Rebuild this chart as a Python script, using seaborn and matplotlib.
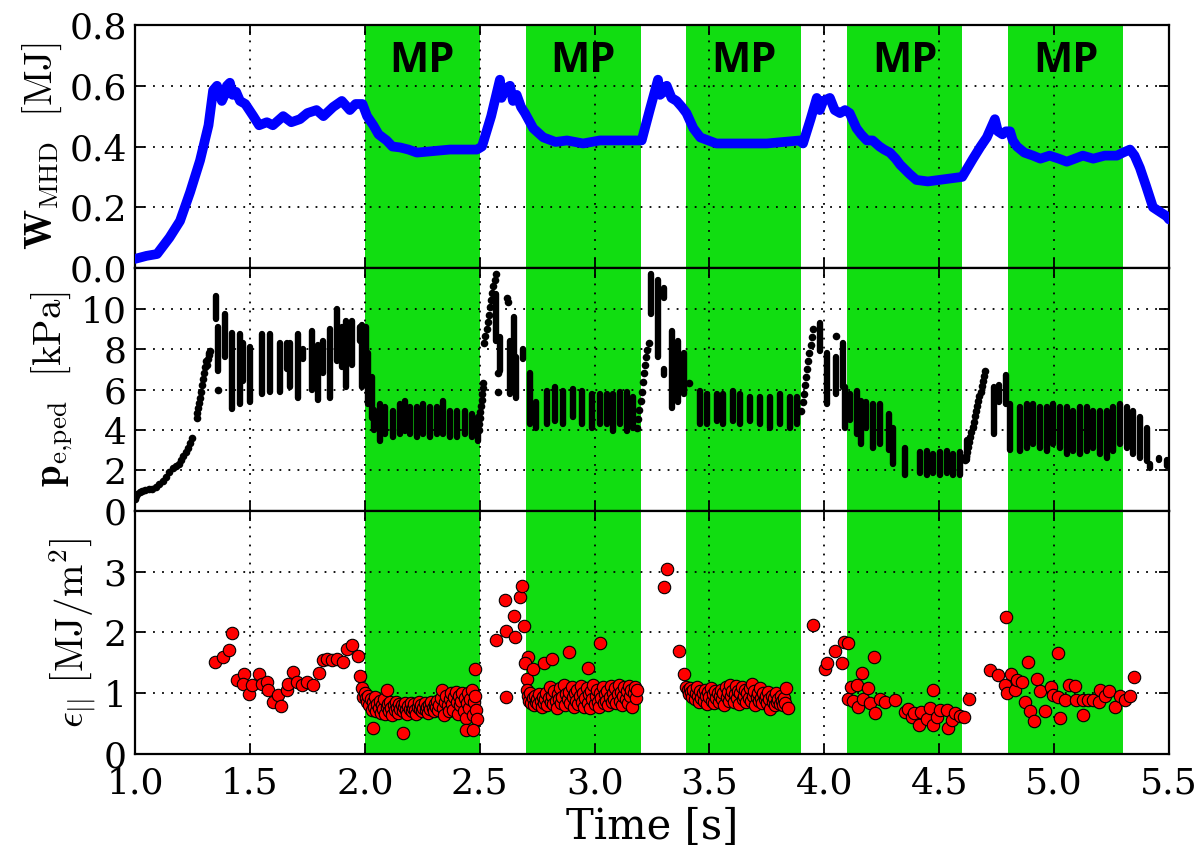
"""Stored energy, pedestal pressure and ELM energy density vs time, MP phases shaded."""
import matplotlib
matplotlib.use("Agg")
import matplotlib.pyplot as plt
import pandas as pd
import seaborn as sns

# ---------------------------------------------------------------------------
# data
# ---------------------------------------------------------------------------
MP_START = [2.0, 2.7, 3.4, 4.1, 4.8]
MP_END = [2.5, 3.2, 3.9, 4.6, 5.3]
MP_LABEL = "MP"

# W_MHD [MJ]
w_t = [1.00, 1.05, 1.096, 1.15, 1.196, 1.24, 1.283, 1.32, 1.34, 1.357, 1.378, 1.39,
       1.40, 1.413, 1.425, 1.44, 1.457, 1.48, 1.515, 1.54, 1.574, 1.60, 1.645, 1.68,
       1.718, 1.75, 1.79, 1.82, 1.862, 1.90, 1.935, 1.96, 1.99, 2.01, 2.037, 2.06,
       2.095, 2.12, 2.153, 2.19, 2.227, 2.30, 2.37, 2.43, 2.488, 2.51, 2.55, 2.588,
       2.595, 2.61, 2.632, 2.645, 2.661, 2.68, 2.697, 2.733, 2.777, 2.83, 2.88, 2.95,
       3.023, 3.09, 3.167, 3.205, 3.24, 3.276, 3.285, 3.30, 3.314, 3.335, 3.357, 3.38,
       3.40, 3.43, 3.46, 3.53, 3.60, 3.68, 3.75, 3.82, 3.894, 3.907, 3.94, 3.967,
       3.98, 3.995, 4.024, 4.045, 4.068, 4.09, 4.11, 4.14, 4.16, 4.185, 4.21, 4.24,
       4.26, 4.285, 4.31, 4.33, 4.37, 4.40, 4.45, 4.50, 4.55, 4.60, 4.647, 4.68,
       4.707, 4.742, 4.755, 4.775, 4.79, 4.808, 4.82, 4.838, 4.87, 4.908, 4.94, 4.98,
       5.02, 5.055, 5.09, 5.125, 5.17, 5.22, 5.273, 5.30, 5.33, 5.35, 5.373, 5.40,
       5.43, 5.49, 5.50]
w_val = [0.03, 0.04, 0.046, 0.10, 0.155, 0.25, 0.354, 0.47, 0.585, 0.60, 0.55, 0.57,
         0.60, 0.61, 0.57, 0.58, 0.55, 0.54, 0.50, 0.47, 0.48, 0.47, 0.50, 0.48,
         0.49, 0.51, 0.52, 0.50, 0.53, 0.55, 0.52, 0.54, 0.54, 0.50, 0.47, 0.44,
         0.42, 0.40, 0.397, 0.39, 0.38, 0.385, 0.39, 0.39, 0.39, 0.40, 0.50, 0.62,
         0.56, 0.59, 0.60, 0.55, 0.57, 0.53, 0.51, 0.46, 0.43, 0.415, 0.42, 0.41,
         0.42, 0.42, 0.42, 0.42, 0.52, 0.62, 0.57, 0.58, 0.60, 0.56, 0.55, 0.53,
         0.51, 0.46, 0.43, 0.41, 0.41, 0.41, 0.41, 0.415, 0.42, 0.41, 0.49, 0.56,
         0.52, 0.55, 0.56, 0.52, 0.51, 0.52, 0.51, 0.46, 0.44, 0.42, 0.42, 0.40,
         0.39, 0.38, 0.36, 0.34, 0.31, 0.29, 0.285, 0.29, 0.295, 0.30, 0.36, 0.40,
         0.43, 0.49, 0.45, 0.44, 0.45, 0.45, 0.42, 0.40, 0.38, 0.37, 0.36, 0.37,
         0.36, 0.35, 0.36, 0.37, 0.36, 0.37, 0.37, 0.38, 0.39, 0.37, 0.33, 0.27,
         0.20, 0.17, 0.16]

# p_e,ped [kPa] — single dots
dot_t = [1.00, 1.005, 1.01, 1.02, 1.03, 1.045, 1.06, 1.075, 1.09, 1.105, 1.12, 1.135,
         1.15, 1.165, 1.18, 1.19, 1.20, 1.21, 1.22, 1.23, 1.24, 1.25,
         1.268, 1.272, 1.276, 1.28, 1.284, 1.288, 1.292, 1.296, 1.30, 1.304, 1.308,
         1.312, 1.316, 1.32, 1.324, 1.327, 1.36,
         2.495, 2.498, 2.50, 2.503, 2.505, 2.508, 2.51, 2.513, 2.515,
         2.52, 2.525, 2.53, 2.535, 2.54, 2.545, 2.55, 2.555, 2.56, 2.565, 2.57,
         2.58, 2.58, 2.62, 2.625,
         3.185, 3.19, 3.195, 3.20, 3.205, 3.21, 3.215, 3.22, 3.225, 3.23, 3.235, 3.41,
         3.90, 3.905, 3.91, 3.915, 3.92, 3.925, 3.93, 3.935, 3.94, 3.945, 3.95, 4.05,
         4.61, 4.615, 4.62, 4.625, 4.63, 4.635, 4.64, 4.645, 4.65, 4.655, 4.66,
         4.665, 4.67, 4.675, 4.68, 4.685, 4.69, 4.695, 4.70]
dot_p = [0.6, 0.75, 0.85, 0.95, 1.0, 1.05, 1.1, 1.1, 1.2, 1.35, 1.5, 1.7,
         1.95, 2.1, 2.2, 2.3, 2.5, 2.7, 2.9, 3.1, 3.35, 3.6,
         4.6, 4.85, 5.1, 5.35, 5.6, 5.9, 6.2, 6.5, 6.8, 7.1, 7.4,
         7.2, 7.5, 7.7, 7.8, 7.9, 6.0,
         4.0, 4.3, 4.6, 4.9, 5.2, 5.5, 5.8, 6.05, 6.3,
         8.3, 8.65, 9.0, 9.35, 9.7, 10.05, 10.4, 10.75, 11.1, 11.4, 11.7,
         6.8, 5.9, 10.5, 10.3,
         4.1, 4.55, 5.0, 5.45, 5.9, 6.35, 6.8, 7.2, 7.6, 7.95, 8.3, 6.3,
         4.95, 5.4, 5.8, 6.2, 6.6, 7.0, 7.4, 7.8, 8.2, 8.6, 9.0, 8.66,
         2.5, 2.7, 2.9, 3.15, 3.4, 3.65, 3.9, 4.15, 4.4, 4.7, 4.95,
         5.2, 5.45, 5.7, 5.9, 6.15, 6.4, 6.65, 6.9]

# p_e,ped [kPa] — dense vertical bands of dots (time, low, high)
band_t = [1.352, 1.36, 1.39, 1.42, 1.455, 1.47, 1.50, 1.553, 1.588, 1.63, 1.66, 1.675,
          1.71, 1.73, 1.77, 1.797, 1.82, 1.85, 1.88, 1.90, 1.92, 1.945, 1.98, 1.99,
          2.005, 2.015, 2.03, 2.04,
          2.066, 2.088, 2.123, 2.153, 2.175, 2.197, 2.227, 2.253, 2.284, 2.314, 2.34,
          2.371, 2.40, 2.436, 2.466, 2.493,
          2.57, 2.59, 2.63, 2.65, 2.66, 2.69, 2.72, 2.745,
          2.793, 2.828, 2.862, 2.906, 2.945, 2.989, 3.023, 3.054, 3.08, 3.11, 3.141, 3.167,
          3.245, 3.275, 3.30, 3.30, 3.335, 3.365, 3.39,
          3.459, 3.489, 3.533, 3.559, 3.602, 3.633, 3.676, 3.72, 3.763, 3.807, 3.85, 3.881,
          3.98, 4.01, 4.05, 4.08, 4.09, 4.11, 4.14, 4.16, 4.18, 4.21, 4.24, 4.28, 4.30,
          4.35, 4.416, 4.446, 4.473, 4.503, 4.533, 4.56, 4.59,
          4.62, 4.74, 4.76, 4.79, 4.81,
          4.851, 4.881, 4.908, 4.938, 4.969, 4.995, 5.025, 5.056, 5.082, 5.112, 5.143,
          5.169, 5.199, 5.23, 5.256, 5.286, 5.317, 5.343, 5.373, 5.404,
          5.415, 5.455, 5.49]
band_lo = [9.5, 6.9, 7.6, 5.05, 5.3, 6.4, 5.4, 5.8, 5.9, 5.9, 7.0, 6.1,
           5.6, 7.5, 6.0, 5.5, 6.8, 5.6, 7.4, 7.1, 6.1, 7.2, 8.4, 6.1,
           7.4, 5.3, 4.6, 4.0,
           3.47, 3.80, 3.63, 3.80, 3.96, 3.80, 3.63, 3.80, 3.63, 3.80, 3.80,
           3.63, 3.63, 3.80, 3.63, 3.47,
           8.4, 6.9, 5.8, 7.4, 5.6, 7.5, 4.3, 4.1,
           4.29, 4.46, 4.29, 4.62, 4.29, 4.12, 4.29, 4.29, 3.96, 4.29, 3.96, 4.12,
           9.75, 7.6, 10.5, 6.7, 5.1, 5.4, 5.8,
           4.29, 4.29, 4.46, 4.29, 4.46, 4.29, 4.46, 4.29, 4.12, 4.29, 4.12, 4.29,
           7.9, 5.3, 5.8, 6.1, 4.1, 4.5, 3.8, 3.3, 4.1, 3.1, 3.3, 3.0, 2.3,
           1.8, 1.9, 1.8, 1.9, 1.8, 1.9, 1.8, 1.8,
           2.5, 3.8, 5.4, 5.3, 3.0,
           2.97, 3.13, 3.30, 3.13, 2.97, 3.30, 3.13, 2.81, 2.97, 2.81, 2.97,
           3.13, 2.81, 2.64, 2.97, 3.30, 3.13, 2.81, 2.64, 2.48,
           2.1, 2.5, 2.2]
band_hi = [10.6, 9.1, 9.75, 8.8, 8.75, 8.3, 8.1, 8.75, 8.75, 8.3, 8.3, 8.3,
           8.75, 8.0, 8.9, 8.2, 8.4, 9.0, 10.0, 9.1, 9.4, 9.4, 9.1, 9.2,
           9.1, 7.8, 6.6, 5.0,
           5.28, 5.12, 4.95, 5.28, 5.45, 5.12, 5.12, 5.28, 5.12, 5.12, 5.45,
           4.95, 4.95, 4.95, 4.79, 4.62,
           10.7, 8.6, 8.4, 9.6, 7.6, 8.0, 6.8, 5.4,
           5.94, 6.10, 5.94, 6.02, 5.94, 5.78, 5.78, 5.78, 5.78, 5.86, 5.86, 5.61,
           11.7, 11.4, 11.0, 7.0, 8.9, 8.4, 7.8,
           5.94, 5.78, 5.78, 5.78, 5.94, 5.78, 5.61, 5.61, 5.61, 5.78, 5.61, 5.61,
           9.3, 7.8, 7.6, 8.3, 6.1, 5.8, 5.94, 5.45, 5.4, 5.3, 5.3, 4.8, 4.1,
           3.1, 2.9, 2.95, 2.8, 2.9, 2.95, 2.8, 2.9,
           3.5, 6.1, 6.2, 6.7, 5.3,
           5.12, 5.28, 5.28, 5.12, 5.12, 5.28, 5.12, 5.12, 4.95, 5.12, 5.12,
           4.95, 4.95, 4.95, 5.12, 5.28, 5.12, 4.95, 4.62, 4.12,
           2.3, 2.6, 2.5]

# epsilon_|| [MJ/m^2]
eps_t = [1.348, 1.384, 1.41, 1.42, 1.442, 1.476, 1.471, 1.497, 1.508, 1.541, 1.551, 1.573,
         1.58, 1.602, 1.624, 1.635, 1.66, 1.667, 1.689, 1.704, 1.725, 1.747, 1.773, 1.802,
         1.817, 1.837, 1.856, 1.88, 1.904, 1.924, 1.943, 1.972, 1.979, 1.986, 1.994,
         2.00, 2.005, 2.01, 2.015, 2.02, 2.025, 2.03, 2.035, 2.04, 2.045, 2.05, 2.055,
         2.06, 2.065, 2.07, 2.075, 2.08, 2.085, 2.09, 2.095, 2.10, 2.105, 2.11, 2.115,
         2.12, 2.125, 2.13, 2.135, 2.14, 2.145, 2.15, 2.155, 2.16, 2.165, 2.17, 2.175,
         2.18, 2.185, 2.19, 2.195, 2.20, 2.205, 2.21, 2.215, 2.22, 2.225, 2.23, 2.235,
         2.24, 2.245, 2.25, 2.255, 2.26, 2.265, 2.27, 2.275, 2.28, 2.285, 2.29, 2.295,
         2.30, 2.305, 2.31, 2.315, 2.32, 2.325, 2.33, 2.335, 2.34, 2.345, 2.35, 2.355,
         2.36, 2.365, 2.37, 2.375, 2.38, 2.385, 2.39, 2.395, 2.40, 2.405, 2.41, 2.415,
         2.42, 2.425, 2.43, 2.435, 2.44, 2.445, 2.45, 2.455, 2.46, 2.465, 2.47, 2.475,
         2.48, 2.485, 2.49, 2.037, 2.165, 2.098, 2.44, 2.47, 2.48,
         2.57, 2.61, 2.614, 2.651, 2.655, 2.675, 2.684, 2.691, 2.614, 2.712, 2.697, 2.704,
         2.733, 2.78, 2.815, 2.888, 3.023, 2.973,
         2.705, 2.71, 2.715, 2.72, 2.725, 2.73, 2.735, 2.74, 2.745, 2.75, 2.755, 2.76,
         2.765, 2.77, 2.775, 2.78, 2.785, 2.79, 2.795, 2.80, 2.805, 2.81, 2.815, 2.82,
         2.825, 2.83, 2.835, 2.84, 2.845, 2.85, 2.855, 2.86, 2.865, 2.87, 2.875, 2.885,
         2.89, 2.895, 2.90, 2.905, 2.91, 2.915, 2.92, 2.925, 2.93, 2.935, 2.94, 2.945,
         2.95, 2.955, 2.96, 2.965, 2.97, 2.975, 2.98, 2.985, 2.99, 2.995, 3.00, 3.005,
         3.01, 3.015, 3.02, 3.025, 3.03, 3.035, 3.04, 3.045, 3.05, 3.055, 3.06, 3.065,
         3.07, 3.075, 3.08, 3.085, 3.09, 3.095, 3.10, 3.105, 3.11, 3.115, 3.12, 3.125,
         3.13, 3.135, 3.14, 3.145, 3.15, 3.155, 3.16, 3.165, 3.17, 3.175, 3.18, 3.185,
         3.314, 3.30, 3.369, 3.389,
         3.40, 3.405, 3.41, 3.415, 3.42, 3.425, 3.43, 3.435, 3.44, 3.445, 3.45, 3.455,
         3.46, 3.465, 3.47, 3.475, 3.48, 3.485, 3.49, 3.495, 3.50, 3.505, 3.51, 3.515,
         3.52, 3.525, 3.53, 3.535, 3.54, 3.545, 3.55, 3.555, 3.56, 3.565, 3.57, 3.575,
         3.58, 3.585, 3.59, 3.595, 3.60, 3.605, 3.61, 3.615, 3.62, 3.625, 3.63, 3.635,
         3.64, 3.645, 3.65, 3.655, 3.66, 3.665, 3.67, 3.675, 3.68, 3.685, 3.69, 3.695,
         3.70, 3.705, 3.71, 3.715, 3.72, 3.725, 3.73, 3.735, 3.74, 3.745, 3.75, 3.755,
         3.76, 3.765, 3.77, 3.775, 3.78, 3.785, 3.79, 3.795, 3.80, 3.805, 3.81, 3.815,
         3.82, 3.825, 3.83, 3.835, 3.84,
         3.949, 4.003, 4.01, 4.046, 4.075, 4.087, 4.104, 4.104, 4.118, 4.125, 4.14, 4.148,
         4.162, 4.168, 4.19, 4.198, 4.216, 4.22, 4.242, 4.264, 4.307, 4.351, 4.365, 4.38,
         4.39, 4.41, 4.42, 4.445, 4.459, 4.471, 4.473, 4.488, 4.503, 4.532, 4.54, 4.555,
         4.57, 4.592, 4.607, 4.629,
         4.72, 4.757, 4.79, 4.786, 4.793, 4.812, 4.829, 4.84, 4.858, 4.873, 4.885, 4.895,
         4.913, 4.924, 4.94, 4.962, 4.986, 4.996, 5.015, 5.018, 5.025, 5.047, 5.066, 5.09,
         5.097, 5.127, 5.127, 5.148, 5.17, 5.195, 5.199, 5.22, 5.24, 5.265, 5.286, 5.31,
         5.33, 5.348]
eps_val = [1.51, 1.60, 1.72, 1.99, 1.22, 1.32, 1.16, 0.99, 1.13, 1.32, 1.15, 1.19,
           1.05, 0.86, 0.97, 0.79, 1.05, 1.16, 1.35, 1.19, 1.13, 1.19, 1.13, 1.33,
           1.55, 1.56, 1.54, 1.56, 1.51, 1.73, 1.80, 1.62, 1.28, 1.08, 0.94,
           1.00, 0.92, 0.85, 0.95, 0.80, 0.90, 0.72, 0.85, 0.78, 0.93, 0.70, 0.82,
           0.75, 0.88, 0.68, 0.80, 0.74, 0.90, 0.66, 0.78, 0.82, 0.70, 0.85, 0.75,
           0.64, 0.80, 0.72, 0.86, 0.76, 0.68, 0.82, 0.74, 0.80, 0.70, 0.78, 0.84,
           0.72, 0.66, 0.79, 0.74, 0.84, 0.70, 0.76, 0.82, 0.72, 0.66, 0.78, 0.86,
           0.74, 0.80, 0.70, 0.76, 0.84, 0.72, 0.78, 0.68, 0.80, 0.74, 0.86, 0.76,
           0.70, 0.82, 0.77, 0.88, 0.72, 0.80, 0.92, 1.05, 0.76, 0.64, 0.86, 0.96,
           0.80, 0.70, 0.90, 1.00, 0.82, 0.72, 0.94, 1.02, 0.86, 0.66, 0.96, 0.80,
           0.88, 1.00, 0.70, 0.92, 0.60, 0.84, 1.00, 0.76, 0.90, 1.05, 0.64, 0.86,
           0.96, 0.72, 0.58, 0.43, 0.34, 1.05, 0.39, 0.39, 1.40,
           1.87, 2.54, 2.03, 2.27, 1.92, 2.58, 2.76, 2.11, 0.93, 1.60, 1.49, 1.24,
           1.40, 1.49, 1.57, 1.68, 1.83, 1.41,
           1.05, 0.95, 0.88, 1.00, 0.84, 0.92, 0.80, 0.96, 0.86, 0.90, 0.82, 0.98,
           0.88, 0.78, 0.94, 0.84, 0.90, 1.00, 0.80, 0.92, 1.10, 0.86, 0.96, 0.82,
           1.04, 0.88, 0.76, 0.98, 0.90, 1.08, 0.84, 0.94, 1.14, 0.80, 0.98, 0.90,
           1.02, 0.84, 1.10, 0.94, 0.78, 1.00, 0.88, 1.06, 0.82, 0.96, 1.12, 0.86,
           1.00, 0.78, 0.92, 1.08, 0.84, 0.98, 0.76, 1.04, 0.90, 1.14, 0.82, 0.96,
           1.06, 0.86, 0.78, 1.00, 0.92, 1.10, 0.84, 0.98, 0.88, 1.04, 0.80, 0.94,
           1.12, 0.86, 1.00, 0.90, 1.08, 0.84, 0.98, 1.14, 0.88, 1.02, 0.80, 0.96,
           1.10, 0.90, 1.04, 0.84, 1.12, 0.96, 1.06, 0.78, 1.00, 1.10, 0.92, 1.06,
           3.05, 2.75, 1.69, 1.32,
           1.10, 1.05, 0.98, 1.08, 1.02, 0.94, 1.06, 0.90, 1.00, 1.10, 0.96, 0.86,
           1.04, 0.92, 1.00, 0.88, 1.06, 0.96, 0.82, 1.02, 0.94, 1.08, 0.88, 0.98,
           0.84, 1.04, 0.92, 1.00, 0.86, 0.96, 1.06, 0.90, 1.00, 0.80, 1.10, 0.94,
           1.02, 0.88, 1.14, 0.96, 1.04, 0.86, 0.98, 1.12, 0.92, 1.04, 0.82, 1.00,
           1.10, 0.90, 0.96, 1.06, 0.86, 1.00, 0.92, 1.08, 0.88, 1.16, 0.96, 1.04,
           0.80, 0.94, 1.00, 0.88, 1.08, 0.92, 0.84, 1.00, 0.90, 0.96, 0.84, 1.02,
           0.90, 0.74, 0.96, 0.86, 0.92, 0.80, 1.00, 0.86, 0.90, 0.82, 0.96, 0.88,
           0.80, 0.92, 0.84, 1.08, 0.76,
           2.13, 1.40, 1.49, 1.69, 1.49, 1.84, 1.83, 0.91, 1.10, 0.87, 1.14, 0.78,
           1.33, 0.91, 1.08, 0.84, 1.60, 0.67, 0.90, 0.86, 0.89, 0.69, 0.74, 0.61,
           0.67, 0.48, 0.69, 0.58, 0.75, 1.06, 0.48, 0.61, 0.72, 0.72, 0.42, 0.56,
           0.67, 0.63, 0.61, 0.90,
           1.38, 1.30, 2.26, 1.13, 1.00, 1.31, 1.05, 1.21, 1.18, 0.85, 1.51, 0.71,
           0.54, 1.23, 1.04, 0.71, 1.11, 0.97, 1.67, 0.94, 0.60, 0.89, 1.14, 1.12,
           0.89, 0.65, 0.89, 0.89, 0.89, 0.85, 1.05, 0.95, 1.04, 0.77, 0.95, 0.89,
           0.95, 1.27]

XTICKS = [1.0, 1.5, 2.0, 2.5, 3.0, 3.5, 4.0, 4.5, 5.0, 5.5]
W_TICKS = [0.0, 0.2, 0.4, 0.6, 0.8]
P_TICKS = [0, 2, 4, 6, 8, 10]
E_TICKS = [0, 1, 2, 3]

GREEN = "#11dd11"


def setup_plot() -> None:
    sns.set_theme(style="ticks")
    plt.rcParams.update(
        {
            "font.family": ["DejaVu Serif"],
            "mathtext.fontset": "cm",
            "text.color": "black",
            "axes.labelcolor": "black",
            "axes.edgecolor": "black",
            "axes.linewidth": 1.6,
            "axes.axisbelow": "line",
            "xtick.direction": "in",
            "ytick.direction": "in",
            "xtick.top": True,
            "ytick.right": True,
            "xtick.color": "black",
            "ytick.color": "black",
            "xtick.major.size": 7,
            "ytick.major.size": 7,
            "xtick.major.width": 1.3,
            "ytick.major.width": 1.3,
            "xtick.major.pad": 9,
            "ytick.major.pad": 6,
            "xtick.labelsize": 26,
            "ytick.labelsize": 26,
        }
    )


def style_panel(ax, ylim, yticks, fmt) -> None:
    for a, b in zip(MP_START, MP_END):
        ax.axvspan(a, b, color=GREEN, lw=0, zorder=1)
    ax.set_xlim(1.0, 5.5)
    ax.set_ylim(*ylim)
    ax.set_yticks(yticks)
    ax.set_yticklabels([fmt.format(v) for v in yticks])
    ax.set_xticks(XTICKS)
    ax.grid(True, color="black", linestyle=(0, (1, 4)), linewidth=1.3)
    for s in ax.spines.values():
        s.set_color("black")


setup_plot()
fig, axes = plt.subplots(3, 1, sharex=True, figsize=(12.01, 8.51), dpi=100,
                         gridspec_kw={"hspace": 0})
fig.subplots_adjust(left=0.1124, right=0.9734, top=0.9706, bottom=0.114)
ax_w, ax_p, ax_e = axes

# W_MHD
style_panel(ax_w, (0, 0.8), W_TICKS, "{:.1f}")
sns.lineplot(data=pd.DataFrame({"t": w_t, "w": w_val}), x="t", y="w", sort=False,
             estimator=None, color="#0000ff", linewidth=7, ax=ax_w, zorder=3,
             solid_capstyle="round", solid_joinstyle="round")
for a, b in zip(MP_START, MP_END):
    ax_w.text((a + b) / 2, 0.68, MP_LABEL, ha="center", va="center", color="black",
              fontsize=30, fontweight="bold", family="Open Sans", zorder=4)
ax_w.set_ylabel(r"$\mathbf{W}_{\mathrm{MHD}}\ \ [\mathrm{MJ}]$", fontsize=28)
ax_w.set_xlabel("")

# p_e,ped
style_panel(ax_p, (0, 12), P_TICKS, "{:d}")
bands = ax_p.vlines(band_t, band_lo, band_hi, colors="black", linewidth=4.6, zorder=3)
bands.set_capstyle("round")
sns.scatterplot(data=pd.DataFrame({"t": dot_t, "p": dot_p}), x="t", y="p",
                color="black", s=30, linewidth=0, ax=ax_p, zorder=3)
ax_p.set_ylabel(r"$\mathbf{p}_{\mathrm{e{,}ped}}\ \ [\mathrm{kPa}]$", fontsize=28)
ax_p.set_xlabel("")

# epsilon_||
style_panel(ax_e, (0, 4), E_TICKS, "{:d}")
sns.scatterplot(data=pd.DataFrame({"t": eps_t, "e": eps_val}), x="t", y="e",
                color="#ff0000", edgecolor="black", linewidth=0.8, s=80,
                ax=ax_e, zorder=3)
ax_e.set_ylabel(r"$\epsilon_{||}\ \left[\mathrm{MJ/m^2}\right]$", fontsize=28)
ax_e.set_xticklabels([f"{v:.1f}" for v in XTICKS])
ax_e.set_xlabel("Time [s]", fontsize=30)

fig.savefig("out.png", dpi=100)
